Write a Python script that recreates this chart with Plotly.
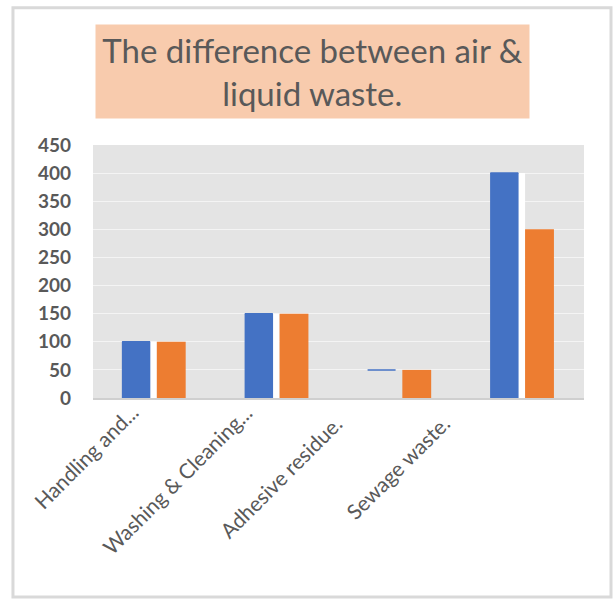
import plotly.graph_objects as go

categories = ["Handling and...", "Washing & Cleaning...", "Adhesive residue.", "Sewage waste."]
air_values = [100, 150, 50, 400]
liquid_values = [100, 150, 50, 300]
y_ticks = [0, 50, 100, 150, 200, 250, 300, 350, 400, 450]

BLUE = "#4472c4"
ORANGE = "#ed7d31"
PLOT_BG = "#e4e4e4"
TEXT = "#595959"
FONT = "Lato, 'Open Sans', sans-serif"

blue_fill = [BLUE, BLUE, PLOT_BG, BLUE]
gap_fill = ["white", "white", PLOT_BG, "white"]

# pixel nudges for the rotated category labels (style only)
label_dx = [-9, -18, -50, -66]
label_dy = [1, 1, -10, -10]

fig = go.Figure()
# white gap strip right of the blue bars
fig.add_trace(go.Bar(x=categories, y=air_values, offset=-0.04, width=0.06,
                     marker=dict(color=gap_fill, line=dict(width=0)),
                     showlegend=False, hoverinfo="skip"))
fig.add_trace(go.Bar(x=categories, y=air_values, name="Air", offset=-0.265, width=0.232,
                     marker=dict(color=blue_fill, line=dict(width=0)),
                     error_y=dict(type="data", array=[0] * len(categories), width=14,
                                  color=BLUE, thickness=1.5)))
fig.add_trace(go.Bar(x=categories, y=liquid_values, name="Liquid", offset=0.02, width=0.235,
                     marker=dict(color=ORANGE, line=dict(width=0))))

annotations = [dict(
    text="The difference between air &<br>liquid waste.",
    xref="paper", yref="paper",
    x=0.448, y=1.2905, xanchor="center", yanchor="middle",
    showarrow=False,
    font=dict(size=33, color=TEXT, family=FONT),
    bgcolor="#f8cbad",
    width=425, height=85, borderpad=4,
)]
for cat, dx, dy in zip(categories, label_dx, label_dy):
    annotations.append(dict(
        text=cat, x=cat, y=0, xref="x", yref="y",
        xanchor="right", yanchor="top", textangle=-45,
        xshift=dx, yshift=dy, showarrow=False,
        font=dict(size=21, color=TEXT, family=FONT),
    ))

fig.update_layout(
    width=613, height=599,
    barmode="overlay",
    showlegend=False,
    paper_bgcolor="white",
    plot_bgcolor=PLOT_BG,
    margin=dict(l=93, r=29, t=145, b=201),
    font=dict(family=FONT, color=TEXT),
    xaxis=dict(
        range=[-0.5, len(categories) - 0.5],
        showticklabels=False,
        showgrid=False,
        showline=True, linecolor="#cfcfcf", linewidth=2,
        ticks="",
    ),
    yaxis=dict(
        range=[0, 450],
        tickvals=y_ticks,
        tickfont=dict(size=19, color=TEXT, family=FONT, weight="bold"),
        showgrid=True, gridcolor="#f4f4f4", gridwidth=1,
        zeroline=False,
        ticks="",
        ticklabelstandoff=21,
    ),
    annotations=annotations,
    shapes=[dict(
        type="rect", xref="paper", yref="paper",
        x0=-0.163, x1=1.055, y0=-0.787, y1=1.542,
        line=dict(color="#d9d9d9", width=3), fillcolor="rgba(0,0,0,0)",
        layer="below",
    )],
)

fig.write_html("out.html", post_script="document.body.style.margin='0';",
               config={"displayModeBar": False})
